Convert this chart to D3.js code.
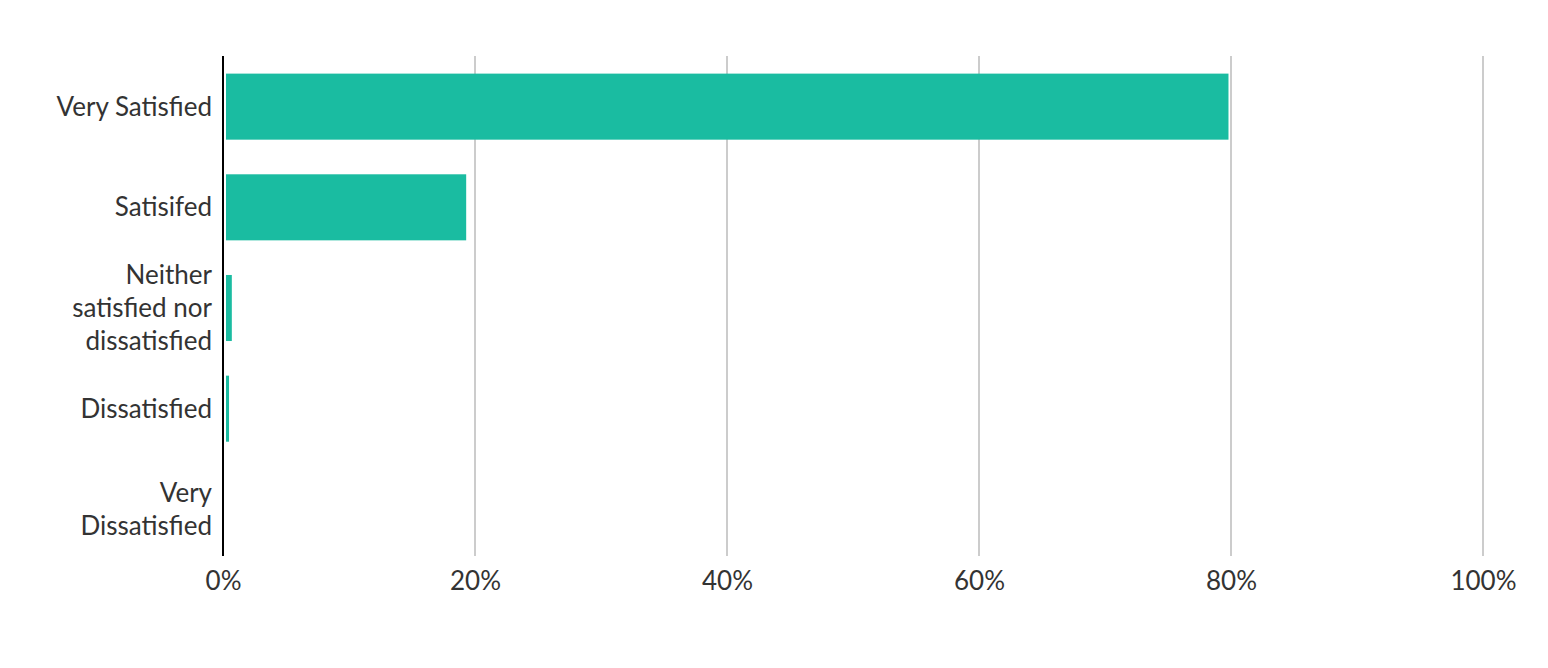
<!DOCTYPE html>
<html><head><meta charset="utf-8">
<script src="https://cdn.jsdelivr.net/npm/d3@7"></script>
<style>
html,body{margin:0;padding:0;background:#fff;}
text{font-family:Lato,"Open Sans",sans-serif;fill:#333;}
</style></head>
<body><svg id="chart" width="1548" height="668"></svg>
<script>
const categories = ["Very Satisfied","Satisifed","Neither satisfied nor dissatisfied","Dissatisfied","Very Dissatisfied"];
const values = [79.8, 19.3, 0.7, 0.4, 0];
const tickValues = [0,20,40,60,80,100];
const tickLabels = ["0%","20%","40%","60%","80%","100%"];

const FS = 26;
const svg = d3.select("#chart");
const x = d3.scaleLinear().domain([0,100]).range([223,1483]);
const y = d3.scaleBand().domain(categories).range([56,560]).paddingInner(0.344).paddingOuter(0.175);

// gridlines
svg.append("g").selectAll("line").data(tickValues.slice(1)).join("line")
  .attr("x1",d=>x(d)).attr("x2",d=>x(d)).attr("y1",56).attr("y2",556)
  .attr("stroke","#cccccc").attr("stroke-width",2);

// bars
svg.append("g").selectAll("rect").data(values).join("rect")
  .attr("x",x(0)+3)
  .attr("y",(d,i)=>y(categories[i]))
  .attr("width",d=>Math.max(0,x(d)-x(0)-3 + (d>0&&x(d)-x(0)<6?1:0)))
  .attr("height",y.bandwidth())
  .attr("fill","#1abca1");

// axis line
svg.append("line").attr("x1",x(0)).attr("x2",x(0)).attr("y1",56).attr("y2",556)
  .attr("stroke","#000").attr("stroke-width",2);

// x tick labels
const xAxis = d3.axisBottom(x).tickValues(tickValues).tickFormat((d,i)=>tickLabels[i]).tickSize(0).tickPadding(0);
const gx = svg.append("g").attr("transform","translate(0,590)").call(xAxis);
gx.select(".domain").remove();
gx.selectAll("text").attr("font-size",FS).attr("fill","#333").attr("dy",0)
  .style("font-family","Lato, 'Open Sans', sans-serif");

// y labels with wrapping
const measure = svg.append("text").attr("font-size",FS).attr("visibility","hidden");
function wrap(str, maxW){
  const words = str.split(" "); const lines=[]; let cur="";
  words.forEach(w=>{
    const t = cur? cur+" "+w : w;
    measure.text(t);
    if(measure.node().getComputedTextLength()>maxW && cur){ lines.push(cur); cur=w; }
    else cur=t;
  });
  if(cur) lines.push(cur);
  return lines;
}
const lh = 33;
categories.forEach(c=>{
  const lines = wrap(c,170);
  const cy = y(c)+y.bandwidth()/2;
  const t = svg.append("text").attr("text-anchor","end").attr("font-size",FS);
  lines.forEach((l,i)=>{
    t.append("tspan").attr("x",212).attr("y",cy + (i-(lines.length-1)/2)*lh).attr("dy","0.35em").text(l);
  });
});
measure.remove();
</script></body></html>
